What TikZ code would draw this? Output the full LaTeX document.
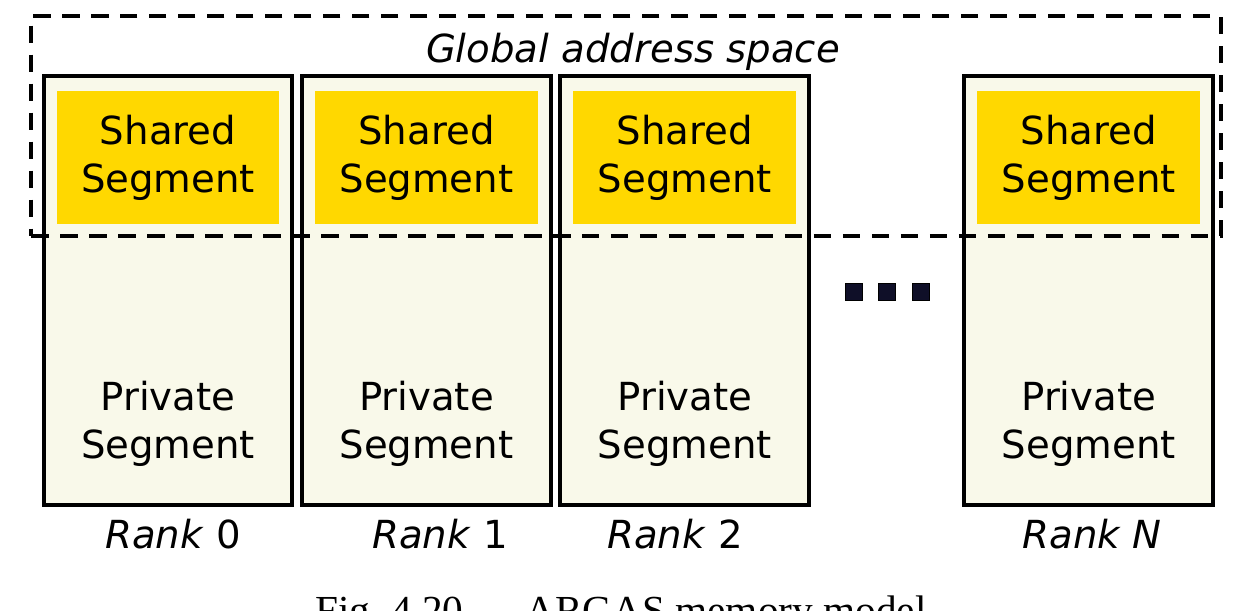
\documentclass[tikz,border=0pt]{standalone}
\usepackage{fontspec}
\setmainfont{DejaVu Sans}
\newfontfamily\capfont{Liberation Serif}
\usetikzlibrary{positioning}
\definecolor{paper}{RGB}{249,249,234}
\definecolor{gold}{RGB}{255,216,0}
\definecolor{dotblue}{RGB}{15,15,40}

\begin{document}
\begin{tikzpicture}[x=0.02cm, y=-0.02cm, node distance=0.19cm,
	rankbox/.style={draw, line width=2.3pt, fill=paper, minimum width=4.98cm, minimum height=8.58cm, inner sep=0pt, outer sep=0pt},
	sharedbox/.style={fill=gold, minimum width=4.46cm, minimum height=2.66cm, align=center, inner sep=0pt, outer sep=0pt},
	segtext/.style={align=center, inner sep=0pt},
	ranklabel/.style={anchor=base},
	dotbox/.style={draw=black, fill=dotblue, minimum size=0.34cm, inner sep=0pt},
	globalbox/.style={draw, line width=2.3pt, dash pattern=on 10pt off 6.5pt, minimum width=23.8cm, minimum height=4.4cm, inner sep=0pt, outer sep=0pt}]
	\fontsize{22}{27.3}\selectfont
	\useasboundingbox (0,0) rectangle (1235,610);
	
	\node (rank0) [rankbox] at (168,290.5) {};
	\node (rank1) [rankbox, right=of rank0] {};
	\node (rank2) [rankbox, right=of rank1] {};
	\node (rankN) [rankbox, right=3.1cm of rank2] {};
	
	\node (shared0) [sharedbox, below=0.3cm of rank0.north] {Shared\\Segment};
	\node (shared1) [sharedbox, below=0.3cm of rank1.north] {Shared\\Segment};
	\node (shared2) [sharedbox, below=0.3cm of rank2.north] {Shared\\Segment};
	\node (sharedN) [sharedbox, below=0.3cm of rankN.north] {Shared\\Segment};
	
	\node (private0) [segtext] at (rank0 |- 0,424) {Private\\Segment};
	\node (private1) [segtext] at (rank1 |- 0,424) {Private\\Segment};
	\node (private2) [segtext] at (rank2 |- 0,424) {Private\\Segment};
	\node (privateN) [segtext] at (rankN |- 0,424) {Private\\Segment};
	
	\node (label0) [ranklabel] at (173,548) {\textit{Rank} 0};
	\node (label1) [ranklabel] at (440,548) {\textit{Rank} 1};
	\node (label2) [ranklabel] at (675,548) {\textit{Rank} 2};
	\node (labelN) [ranklabel] at (1092,548) {\textit{Rank N}};
	
	\node (dot1) [dotbox] at (854,292) {};
	\node (dot2) [dotbox, right=0.31cm of dot1] {};
	\node (dot3) [dotbox, right=0.31cm of dot2] {};
	
	\node (global) [globalbox] at (626,126) {};
	\node (globallabel) [anchor=base] at (633,62) {\textit{Global address space}};
	
	\node (caption) [anchor=base, font=\capfont\fontsize{23.5}{28}\selectfont] at (621,624) {Fig.~4.20 — ARGAS memory model};
\end{tikzpicture}
\end{document}
